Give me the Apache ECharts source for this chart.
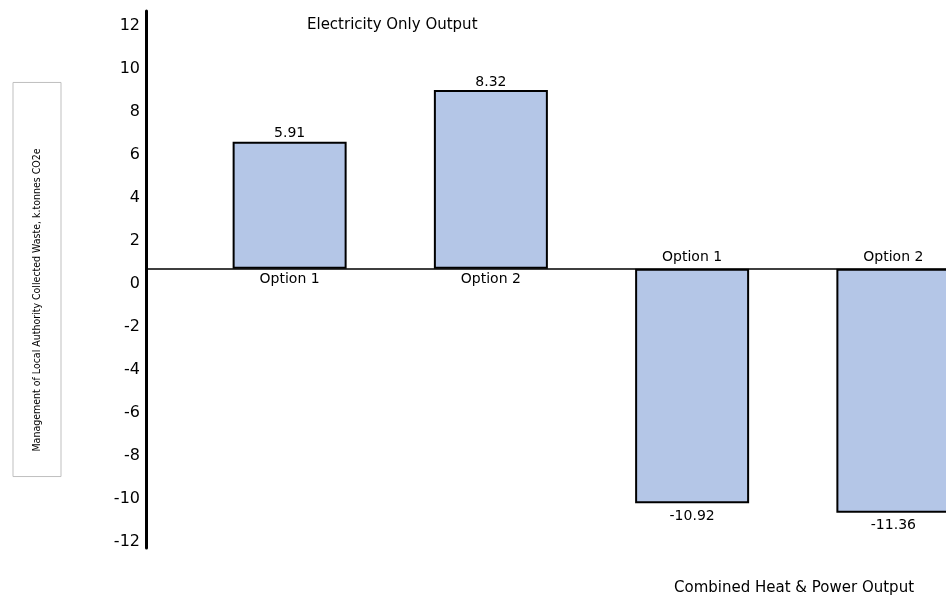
<!DOCTYPE html>
<html>
<head>
<meta charset="utf-8">
<script src="https://cdn.jsdelivr.net/npm/echarts@6/dist/echarts.min.js"></script>
<style>
  html, body { margin: 0; padding: 0; background: #fff; }
  #chart { width: 946px; height: 598px; }
</style>
</head>
<body>
<div id="chart"></div>
<script>
// 数据
var categories = ['Option 1', 'Option 2', 'Option 1', 'Option 2'];
var emissions = [5.91, 8.32, -10.92, -11.36];
var yTicks = [-12, -10, -8, -6, -4, -2, 0, 2, 4, 6, 8, 10, 12];
var groupLabels = ['Electricity Only Output', 'Combined Heat & Power Output'];
var yName = 'Management of Local Authority Collected Waste, k.tonnes CO2e';

var font = 'DejaVu Sans';
var chart = echarts.init(document.getElementById('chart'));

chart.setOption({
    animation: false,
    textStyle: {fontFamily: font, color: '#000'},
    title: [
        {
            text: groupLabels[0], left: 307, top: 18, padding: 0,
            textStyle: {fontFamily: font, fontSize: 15, fontWeight: 'normal', color: '#000'}
        },
        {
            text: groupLabels[1], left: 674, top: 581, padding: 0,
            textStyle: {fontFamily: font, fontSize: 15, fontWeight: 'normal', color: '#000'}
        }
    ],
    grid: [
        // 柱子所在的网格（右边超出画布）
        {left: 189, top: 11, width: 805, height: 537, outerBoundsMode: 'none'},
        // 坐标轴所在的网格
        {left: 146, top: 11, right: 0, height: 537, outerBoundsMode: 'none'}
    ],
    xAxis: [
        {gridIndex: 0, type: 'category', data: categories, show: false},
        {
            gridIndex: 1, type: 'category', data: [''],
            axisLine: {onZero: true, lineStyle: {color: '#000', width: 1.5}},
            axisTick: {show: false},
            axisLabel: {show: false},
            splitLine: {show: false}
        }
    ],
    yAxis: [
        {gridIndex: 0, type: 'value', min: -13, max: 12, show: false, splitLine: {show: false}},
        {
            gridIndex: 1, type: 'value', min: -13, max: 12,
            splitLine: {show: false},
            axisLine: {show: true, lineStyle: {color: '#000', width: 3}},
            axisTick: {show: false},
            axisLabel: {
                customValues: yTicks,
                fontFamily: font, fontSize: 16, color: '#000',
                margin: 6, verticalAlign: 'top', padding: [7, 0, 0, 0]
            },
            name: yName,
            nameLocation: 'middle',
            nameRotate: 90,
            nameGap: 85,
            nameTextStyle: {
                fontFamily: '"DejaVu Sans Condensed", "Liberation Sans Narrow", sans-serif',
                fontSize: 10.5, color: '#000',
                borderColor: '#bfbfbf', borderWidth: 1,
                padding: [19, 66, 18, 25]
            }
        }
    ],
    series: [
        {
            name: 'value',
            type: 'bar',
            xAxisIndex: 0, yAxisIndex: 0,
            barWidth: 114, barGap: '-100%',
            data: emissions.map(function (v) {
                return {value: v, label: {distance: v >= 0 ? 1 : 6}};
            }),
            itemStyle: {color: '#b4c6e7', borderColor: '#000', borderWidth: 2},
            label: {
                show: true, position: 'outside',
                fontFamily: font, fontSize: 14, color: '#000',
                formatter: function (p) { return p.value.toFixed(2); }
            }
        },
        {
            name: 'category',
            type: 'bar',
            xAxisIndex: 0, yAxisIndex: 0,
            barWidth: 114, barGap: '-100%',
            silent: true,
            data: emissions.map(function (v) {
                return {value: v, label: {position: v >= 0 ? 'bottom' : 'top'}};
            }),
            itemStyle: {color: 'rgba(0,0,0,0)'},
            label: {
                show: true, distance: 4,
                fontFamily: font, fontSize: 14, color: '#000',
                formatter: '{b}'
            }
        }
    ]
});
</script>
</body>
</html>
